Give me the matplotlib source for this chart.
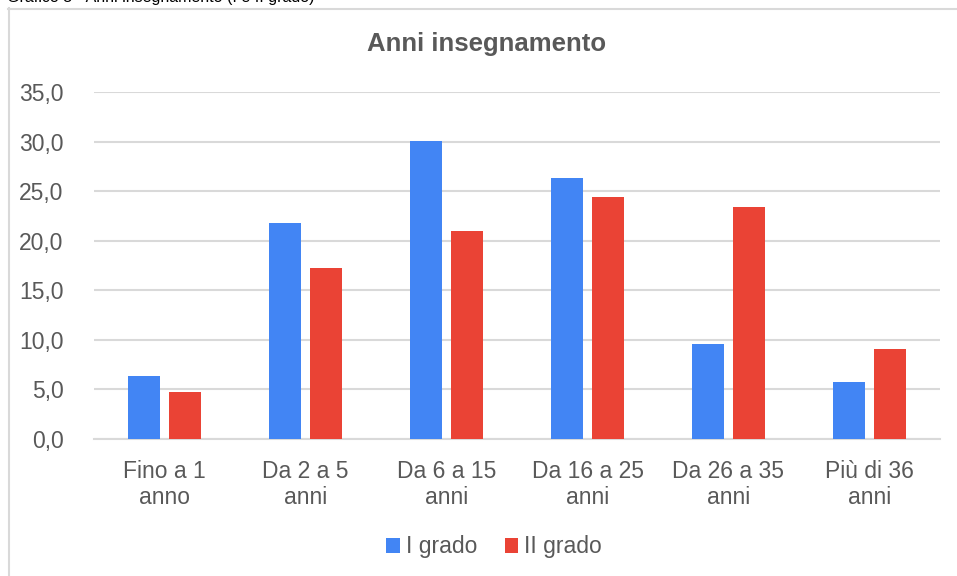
import matplotlib
matplotlib.use("Agg")
import matplotlib.pyplot as plt
import numpy as np
from matplotlib.lines import Line2D
from matplotlib.patches import Patch

plt.rcParams['font.family'] = ['Liberation Sans', 'DejaVu Sans']

categories = ["Fino a 1\nanno", "Da 2 a 5\nanni", "Da 6 a 15\nanni",
              "Da 16 a 25\nanni", "Da 26 a 35\nanni", "Più di 36\nanni"]
series_names = ["I grado", "II grado"]
primo_grado = [6.4, 21.8, 30.1, 26.3, 9.6, 5.7]
secondo_grado = [4.7, 17.2, 21.0, 24.4, 23.4, 9.1]
yticks = [0, 5, 10, 15, 20, 25, 30, 35]
ytick_labels = ["0,0", "5,0", "10,0", "15,0", "20,0", "25,0", "30,0", "35,0"]
title = "Anni insegnamento"
caption = "Grafico 5 - Anni insegnamento (I e II grado)"

W, H = 957, 576
fig = plt.figure(figsize=(W / 100, H / 100), dpi=100)
fig.patch.set_facecolor("white")

blue = "#4285F4"
red = "#EA4335"
txt = "#595959"
grid = "#D9D9D9"

# plot area in pixels
x0, x1, ytop, ybot = 94, 940, 92, 439
ax = fig.add_axes([x0 / W, 1 - ybot / H, (x1 - x0) / W, (ybot - ytop) / H])

x = np.arange(len(categories))
bw = 0.227
off = 0.144
ax.bar(x - off, primo_grado, width=bw, color=blue, zorder=3, label=series_names[0])
ax.bar(x + off, secondo_grado, width=bw, color=red, zorder=3, label=series_names[1])

ax.set_xlim(-0.5, len(categories) - 0.5)
ax.set_ylim(0, 35)
ax.set_yticks(yticks)
ax.set_yticklabels(ytick_labels)
ax.set_xticks(x)
ax.set_xticklabels(categories, linespacing=1.18)
ax.tick_params(axis="y", length=0, pad=22, labelsize=16.5, labelcolor=txt)
ax.tick_params(axis="x", length=0, pad=15, labelsize=16.5, labelcolor=txt)
for s in ["top", "right", "left"]:
    ax.spines[s].set_visible(False)
ax.spines["bottom"].set_color(grid)
ax.spines["bottom"].set_linewidth(1.5)
ax.yaxis.grid(True, color=grid, linewidth=1.5, zorder=0)
ax.set_axisbelow(True)

# title
fig.text(487 / W, 1 - 44 / H, title, ha="center", va="center",
         fontsize=18.5, fontweight="bold", color=txt)

# caption above the chart, mostly cut off by the top edge as in the reference
fig.text(7 / W, 1 - 2 / H, caption, ha="left", va="baseline",
         fontsize=11.5, color="black")

# legend
handles = [Patch(facecolor=blue, edgecolor="none"), Patch(facecolor=red, edgecolor="none")]
leg = fig.legend(handles, series_names, loc="center", bbox_to_anchor=(494 / W, 1 - 547 / H),
                 ncol=2, frameon=False, fontsize=16.5, handlelength=0.6, handleheight=0.6,
                 handletextpad=0.25, columnspacing=1.2, labelcolor=txt)

# chart border (left and top)
fig.add_artist(Line2D([8.5 / W, 8.5 / W], [0, 1 - 8 / H], transform=fig.transFigure,
                      color=grid, linewidth=1.5))
fig.add_artist(Line2D([8 / W, 1], [1 - 8.5 / H, 1 - 8.5 / H], transform=fig.transFigure,
                      color=grid, linewidth=1.5))

fig.savefig("out.png", dpi=100, facecolor="white")
